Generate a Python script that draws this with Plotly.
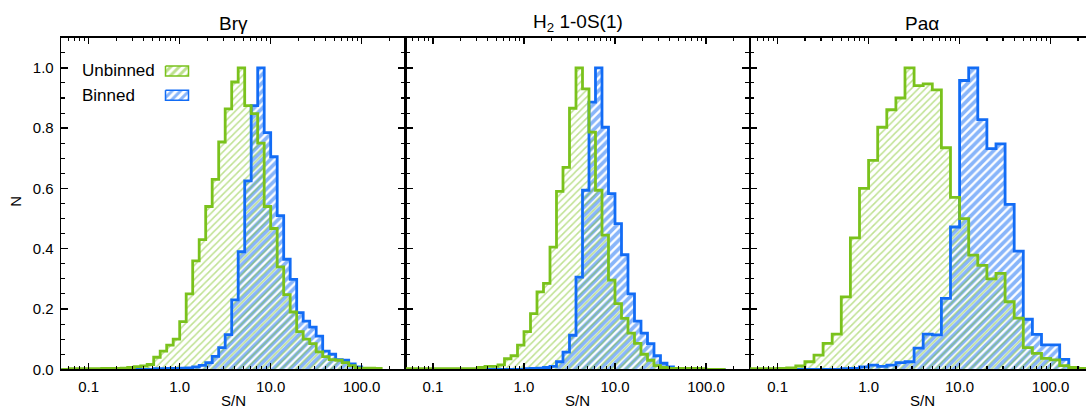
import numpy as np
import plotly.graph_objects as go

# ---------------- data ----------------
PANEL_TITLES = ["Brγ", "H<sub>2</sub> 1-0S(1)", "Paα"]
SERIES_NAMES = ["Unbinned", "Binned"]
X_TICK_VALUES = [0.1, 1.0, 10.0, 100.0]
X_TICK_LABELS = ["0.1", "1.0", "10.0", "100.0"]
Y_TICK_VALUES = [0.0, 0.2, 0.4, 0.6, 0.8, 1.0]
Y_TICK_LABELS = ["0.0", "0.2", "0.4", "0.6", "0.8", "1.0"]
X_AXIS_TITLE = "S/N"
Y_AXIS_TITLE = "N"

# Br-gamma and H2 histograms: 14 log bins per dex, first edge at 10**(-19/14)
H_BINS_PER_DEX = 14
H_FIRST_EDGE = -19
BRG_UNBINNED = [0, 0, 0.002, 0.002, 0.002, 0.002, 0.002, 0.003, 0.003, 0.003, 0.004, 0.006,
                0.009, 0.011, 0.016, 0.04,
                0.06, 0.08, 0.10, 0.158, 0.25, 0.36, 0.43, 0.54, 0.63, 0.754, 0.864, 0.953,
                1.0, 0.875, 0.848, 0.75, 0.54, 0.467, 0.34, 0.248, 0.19, 0.125, 0.10, 0.085,
                0.058, 0.042, 0.032, 0.03, 0.022, 0.012, 0.004, 0.004, 0.004, 0.003]
BRG_BINNED = [0, 0, 0, 0, 0, 0, 0, 0, 0, 0, 0, 0, 0, 0, 0, 0.002,
              0.002, 0.003, 0.003, 0.004, 0.005, 0.008, 0.013, 0.022, 0.043, 0.072, 0.115, 0.23,
              0.39, 0.625, 0.875, 1.0, 0.785, 0.705, 0.51, 0.365, 0.298, 0.188, 0.16, 0.14,
              0.11, 0.06, 0.05, 0.032, 0.03, 0.018, 0.008, 0.003, 0, 0]
H2_UNBINNED = [0, 0.002, 0.002, 0.002, 0.002, 0.002, 0.002, 0.002, 0.002, 0.002, 0.002, 0.002,
               0.006, 0.01, 0.01, 0.015,
               0.035, 0.045, 0.08, 0.125, 0.185, 0.257, 0.285, 0.405, 0.59, 0.67, 0.866, 1.0,
               0.93, 0.787, 0.594, 0.445, 0.296, 0.218, 0.169, 0.12, 0.086, 0.05, 0.03, 0.012,
               0.006, 0.003, 0.003, 0.003, 0.003, 0.003, 0.002, 0, 0, 0]
H2_BINNED = [0, 0, 0, 0, 0, 0, 0, 0, 0, 0, 0, 0, 0, 0, 0, 0,
             0, 0, 0, 0.002, 0.003, 0.004, 0.006, 0.01, 0.025, 0.057, 0.113, 0.306,
             0.594, 0.886, 1.0, 0.803, 0.583, 0.483, 0.38, 0.25, 0.16, 0.12, 0.085, 0.045,
             0.02, 0.008, 0.003, 0, 0, 0, 0, 0, 0, 0]

# Pa-alpha histograms: 10 log bins per dex, first edge at 10**(-14/10)
PA_BINS_PER_DEX = 10
PA_FIRST_EDGE = -14
PA_UNBINNED = [0, 0.002, 0.002, 0.002, 0.003, 0.005, 0.011, 0.025, 0.047, 0.086, 0.117, 0.24,
               0.436, 0.60, 0.693, 0.803, 0.861, 0.90, 1.0, 0.941, 0.947, 0.927, 0.735, 0.57,
               0.50, 0.379, 0.345, 0.30, 0.318, 0.224, 0.17, 0.072, 0.053, 0.036, 0.031, 0.012,
               0.006, 0.003]
PA_BINNED = [0, 0, 0, 0, 0, 0, 0, 0, 0, 0, 0, 0.002, 0.003, 0.008,
             0.014, 0.01, 0.014, 0.022, 0.025, 0.07, 0.117, 0.114, 0.235, 0.472, 0.958, 1.0,
             0.828, 0.732, 0.748, 0.547, 0.392, 0.166, 0.116, 0.081, 0.081, 0.033, 0.005, 0.0]

PANELS = [
    (BRG_UNBINNED, BRG_BINNED, H_BINS_PER_DEX, H_FIRST_EDGE),
    (H2_UNBINNED, H2_BINNED, H_BINS_PER_DEX, H_FIRST_EDGE),
    (PA_UNBINNED, PA_BINNED, PA_BINS_PER_DEX, PA_FIRST_EDGE),
]

# ---------------- style ----------------
W, H = 1086, 409
FONT = "Liberation Sans, Arial, Helvetica, sans-serif"
GREEN = "rgb(122,194,28)"
GREEN_HATCH = "rgb(128,196,38)"
BLUE = "rgb(18,108,245)"
BLUE_HATCH = "rgb(18,108,245)"

X_MIN, X_MAX = 0.05, 300.0
PX_PER_DEX = 91.0
PANEL_LEFT = [61.3, 405.6, 750.2]
PLOT_TOP, PLOT_BOTTOM = 37.7, 369.3


def step_path(heights, per_dex, first_edge):
    n = len(heights)
    edges = 10.0 ** ((first_edge + np.arange(n + 1)) / per_dex)
    xs = np.concatenate([[edges[0]], edges, [edges[-1]]])
    ys = np.concatenate([[0.0], heights, [heights[-1]], [0.0]])
    return xs, ys


fig = go.Figure()
axis_common = dict(showline=True, linecolor="black", linewidth=1.6, ticks="inside",
                   tickcolor="black", tickwidth=1.3, showgrid=False, zeroline=False,
                   automargin=False,
                   tickfont=dict(family=FONT, size=15, color="black"))

for i, (unb, binned, per_dex, first_edge) in enumerate(PANELS):
    xa = "x" if i == 0 else f"x{i+1}"
    ya = "y" if i == 0 else f"y{i+1}"
    for vals, lc, hc, hs, sol in [(binned, BLUE, BLUE_HATCH, 6, 0.62),
                                  (unb, GREEN, GREEN_HATCH, 5, 0.3)]:
        xs, ys = step_path(vals, per_dex, first_edge)
        fig.add_trace(go.Scatter(x=xs, y=ys, xaxis=xa, yaxis=ya, mode="lines",
                                 line=dict(width=0, shape="hv"), fill="tozeroy",
                                 fillcolor="rgba(0,0,0,0)",
                                 fillpattern=dict(shape="/", fgcolor=hc, size=hs,
                                                  solidity=sol), hoverinfo="skip"))
    for vals, lc in [(binned, BLUE), (unb, GREEN)]:
        xs, ys = step_path(vals, per_dex, first_edge)
        fig.add_trace(go.Scatter(x=xs, y=ys, xaxis=xa, yaxis=ya, mode="lines",
                                 line=dict(width=2.8, color=lc, shape="hv"), hoverinfo="skip"))

    left = PANEL_LEFT[i]
    full_w = PX_PER_DEX * (np.log10(X_MAX) - np.log10(X_MIN))
    right = min(left + full_w, W)
    xmax_log = np.log10(X_MIN) + (right - left) / PX_PER_DEX
    minor_vals = [m * 10.0 ** d for d in range(-2, 3) for m in range(2, 10)]
    xax = dict(axis_common, type="log", range=[np.log10(X_MIN), xmax_log],
               domain=[left / W, right / W], anchor=ya, mirror="ticks", ticklen=6,
               tickmode="array", tickvals=X_TICK_VALUES, ticktext=X_TICK_LABELS,
               ticklabelstandoff=3,
               minor=dict(ticks="inside", ticklen=3, tickwidth=1.1, tickcolor="black",
                          tickmode="array", tickvals=minor_vals))
    yax = dict(axis_common, range=[0, 1.1], domain=[(H - PLOT_BOTTOM) / H, (H - PLOT_TOP) / H],
               anchor=xa, mirror=("ticks" if i < 2 else False), ticklen=7,
               tickmode="array", tickvals=Y_TICK_VALUES, ticktext=Y_TICK_LABELS,
               showticklabels=(i == 0), ticklabelstandoff=3,
               minor=dict(ticks="inside", ticklen=4, tickwidth=1.1, tickcolor="black",
                          dtick=0.05, tick0=0))
    key = "" if i == 0 else str(i + 1)
    fig.layout["xaxis" + key] = xax
    fig.layout["yaxis" + key] = yax

    cx = (left + left + full_w) / 2 / W
    fig.add_annotation(x=cx, y=(H - 23.3) / H, xref="paper", yref="paper", text=PANEL_TITLES[i],
                       showarrow=False, font=dict(family=FONT, size=19, color="black"),
                       xanchor="center", yanchor="middle")
    fig.add_annotation(x=cx, y=(H - 400.5) / H, xref="paper", yref="paper", text=X_AXIS_TITLE,
                       showarrow=False, font=dict(family=FONT, size=15, color="black"),
                       xanchor="center", yanchor="middle")

fig.add_annotation(x=16 / W, y=(H - 201.7) / H, xref="paper", yref="paper", text=Y_AXIS_TITLE,
                   textangle=-90, showarrow=False, font=dict(family=FONT, size=15, color="black"),
                   xanchor="center", yanchor="middle")

# legend (text left, hatched key right) drawn on a full-figure helper axis in pixel units
fig.layout["xaxis4"] = dict(domain=[0, 1], range=[0, W], visible=False, anchor="y4",
                            fixedrange=True, automargin=False)
fig.layout["yaxis4"] = dict(domain=[0, 1], range=[H, 0], visible=False, anchor="x4",
                            fixedrange=True, automargin=False)
for j, (name, lc) in enumerate(zip(SERIES_NAMES, [GREEN, BLUE])):
    yc = 71 + 24.3 * j
    fig.add_annotation(x=80 / W, y=(H - yc) / H, xref="paper", yref="paper", text=name,
                       showarrow=False, font=dict(family=FONT, size=17, color="black"),
                       xanchor="left", yanchor="middle")
    x0, x1, y0, y1 = 165.5, 188.5, yc - 5, yc + 5
    fig.add_trace(go.Scatter(x=[x0, x1, x1, x0, x0], y=[y0, y0, y1, y1, y0], xaxis="x4", yaxis="y4",
                             mode="lines", line=dict(color=lc, width=1.5), fill="toself",
                             fillcolor="rgba(0,0,0,0)",
                             fillpattern=dict(shape="/", fgcolor=lc, size=6, solidity=0.5),
                             hoverinfo="skip"))

fig.update_layout(width=W, height=H, margin=dict(l=0, r=0, t=0, b=0, autoexpand=False),
                  showlegend=False, hovermode=False,
                  paper_bgcolor="white", plot_bgcolor="rgba(0,0,0,0)",
                  font=dict(family=FONT, color="black"))

fig.write_html("out.html", config={"displayModeBar": False, "staticPlot": True},
               post_script="document.body.style.margin='0px';document.body.style.overflow='hidden';")
